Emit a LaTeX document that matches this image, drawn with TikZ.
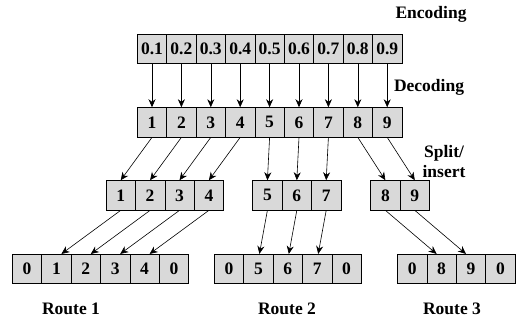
\documentclass[tikz,border=0pt]{standalone}
\usepackage{fontspec}
\setmainfont{Liberation Serif}
\usetikzlibrary{arrows.meta}
\definecolor{cellgray}{HTML}{D9D9D9}
\tikzset{
  cell/.style={draw=black, line width=0.6pt, fill=cellgray, minimum width=29.4pt, minimum height=29.5pt, inner sep=0pt, font=\fontsize{17.5}{20}\selectfont\bfseries},
  lbl/.style={font=\fontsize{17.5}{20}\selectfont\bfseries, inner sep=0pt},
  conn/.style={-{Stealth[length=8pt,width=7pt]}, line width=0.6pt}
}
\begin{document}
\begin{tikzpicture}[x=1pt,y=1pt]
\useasboundingbox (0,0) rectangle (522,326);
% row 1 (encoding)
\foreach \v [count=\i] in {0.1,0.2,0.3,0.4,0.5,0.6,0.7,0.8,0.9}
  \node[cell] (e\i) at ({137.3+14.7+29.4*(\i-1)},277.2) {\v};
% row 2 (decoding)
\foreach \v [count=\i] in {1,...,9}
  \node[cell] (d\i) at ({137.3+14.7+29.4*(\i-1)},203.7) {\v};
% row 3 (split)
\foreach \v [count=\i] in {1,2,3,4}
  \node[cell] (sa\i) at ({106+14.7+29.4*(\i-1)},130.7) {\v};
\foreach \v [count=\i] in {5,6,7}
  \node[cell] (sb\i) at ({252.7+14.7+29.4*(\i-1)},130.7) {\v};
\foreach \v [count=\i] in {8,9}
  \node[cell] (sc\i) at ({370.7+14.7+29.4*(\i-1)},130.7) {\v};
% row 4 (routes)
\foreach \v [count=\i] in {0,1,2,3,4,0}
  \node[cell] (ra\i) at ({12.3+14.7+29.4*(\i-1)},57) {\v};
\foreach \v [count=\i] in {0,5,6,7,0}
  \node[cell] (rb\i) at ({214.3+14.7+29.4*(\i-1)},57) {\v};
\foreach \v [count=\i] in {0,8,9,0}
  \node[cell] (rc\i) at ({397.5+14.7+29.4*(\i-1)},57) {\v};
% arrows
\foreach \i in {1,...,9}
  \draw[conn] (e\i.south) -- (d\i.north);
\foreach \i in {1,2,3,4}
  \draw[conn] (d\i.south) -- (sa\i.north);
\foreach \i [evaluate=\i as \j using int(\i+4)] in {1,2,3}
  \draw[conn] (d\j.south) -- (sb\i.north);
\foreach \i [evaluate=\i as \j using int(\i+7)] in {1,2}
  \draw[conn] (d\j.south) -- (sc\i.north);
\foreach \i [evaluate=\i as \j using int(\i+1)] in {1,2,3,4}
  \draw[conn] (sa\i.south) -- ([xshift=5pt]ra\j.north);
\foreach \i [evaluate=\i as \j using int(\i+1)] in {1,2,3}
  \draw[conn] (sb\i.south) -- ([xshift=1pt]rb\j.north);
\foreach \i [evaluate=\i as \j using int(\i+1)] in {1,2}
  \draw[conn] (sc\i.south) -- ([xshift=-5pt]rc\j.north);
% labels
\node[lbl, anchor=base] (enc) at (431,307.7) {Encoding};
\node[lbl, anchor=base] (dec) at (429,234.3) {Decoding};
\node[lbl, align=center] (split) at (444,164) {Split/\\insert};
\node[lbl, anchor=base] (rt1) at (71,11.7) {Route 1};
\node[lbl, anchor=base] (rt2) at (287,11.7) {Route 2};
\node[lbl, anchor=base] (rt3) at (452,11.7) {Route 3};
\end{tikzpicture}
\end{document}
